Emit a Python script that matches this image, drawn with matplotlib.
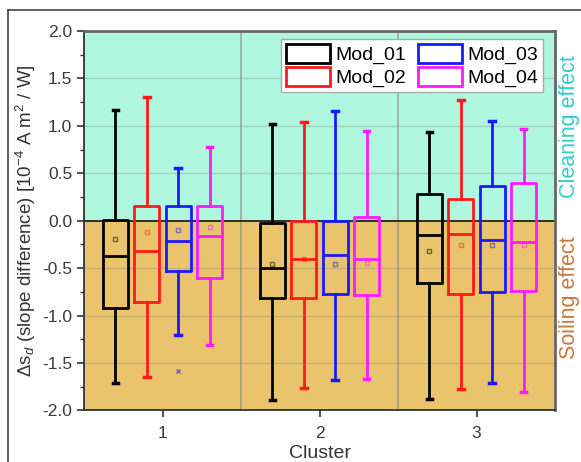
#!/usr/bin/env python3

import matplotlib
matplotlib.use("Agg")
import matplotlib.pyplot as plt
from matplotlib.patches import Patch
from matplotlib.lines import Line2D

plt.rcParams['font.family'] = ['Liberation Sans', 'DejaVu Sans']
plt.rcParams['mathtext.fontset'] = 'custom'
plt.rcParams['mathtext.rm'] = 'Liberation Sans'
plt.rcParams['mathtext.it'] = 'Liberation Sans:italic'

# data (per cluster 1, 2, 3)
clusters = [1, 2, 3]
models = ["Mod_01", "Mod_02", "Mod_03", "Mod_04"]
colors = ["black", "#ff1a1a", "#1a1aff", "#ff1aff"]

whishi = [[1.17, 1.02, 0.93], [1.30, 1.045, 1.27], [0.56, 1.155, 1.05], [0.78, 0.95, 0.97]]
q3 = [[0.01, -0.02, 0.28], [0.16, 0.0, 0.23], [0.16, 0.0, 0.37], [0.15, 0.035, 0.40]]
med = [[-0.37, -0.50, -0.15], [-0.32, -0.40, -0.14], [-0.21, -0.36, -0.20], [-0.165, -0.40, -0.22]]
q1 = [[-0.915, -0.81, -0.66], [-0.86, -0.81, -0.77], [-0.535, -0.77, -0.75], [-0.605, -0.785, -0.74]]
whislo = [[-1.71, -1.89, -1.88], [-1.65, -1.76, -1.77], [-1.20, -1.68, -1.71], [-1.31, -1.67, -1.81]]
means = [[-0.19, -0.46, -0.32], [-0.12, -0.40, -0.26], [-0.10, -0.46, -0.26], [-0.07, -0.45, -0.26]]
fliers = [[[], [], []], [[], [], []], [[-1.58], [], []], [[], [], []]]

offsets = [-0.3, -0.1, 0.1, 0.3]

fig = plt.figure(figsize=(5.81, 4.62), dpi=100)
ax = fig.add_axes([0.1446, 0.1115, 0.8107, 0.8215])

# background regions
ax.axhspan(0, 2, color="#b0f7e0", zorder=0)
ax.axhspan(-2, 0, color="#e9c46c", zorder=0)

for y in [-1.5, -1.0, -0.5, 0.5, 1.0, 1.5]:
    ax.axhline(y, color="#888888", alpha=0.35, lw=1, zorder=1)
for x in [1.5, 2.5]:
    ax.axvline(x, color="#888888", alpha=0.6, lw=1.3, zorder=1)
ax.axhline(0, color="#222222", lw=1.3, zorder=1.5)

for m in range(4):
    stats = []
    for c in range(3):
        stats.append(dict(med=med[m][c], q1=q1[m][c], q3=q3[m][c],
                          whislo=whislo[m][c], whishi=whishi[m][c],
                          mean=means[m][c], fliers=fliers[m][c]))
    pos = [cl + offsets[m] for cl in clusters]
    col = colors[m]
    ax.bxp(stats, positions=pos, widths=0.16, showmeans=True, patch_artist=False,
           manage_ticks=False,
           boxprops=dict(color=col, lw=2),
           medianprops=dict(color=col, lw=2),
           whiskerprops=dict(color=col, lw=2),
           capprops=dict(color=col, lw=2.5),
           capwidths=0.035,
           meanprops=dict(marker="s", markersize=3.5, markerfacecolor="none",
                          markeredgecolor=col, alpha=0.5),
           flierprops=dict(marker="x", markersize=3.5, markeredgecolor=col, alpha=0.6))

ax.set_xlim(0.5, 3.5)
ax.set_ylim(-2.0, 2.0)
ax.set_xticks(clusters)
ax.set_xticklabels(["1", "2", "3"])
ax.set_yticks([-2.0, -1.5, -1.0, -0.5, 0.0, 0.5, 1.0, 1.5, 2.0])
ax.set_yticklabels(["-2.0", "-1.5", "-1.0", "-0.5", "0.0", "0.5", "1.0", "1.5", "2.0"])
ax.set_yticks([-1.75, -1.25, -0.75, -0.25, 0.25, 0.75, 1.25, 1.75], minor=True)
ax.tick_params(axis="both", which="major", direction="out", length=5, width=1.2,
               color="#333333", labelcolor="#3a3a3a", labelsize=12.5)
ax.tick_params(axis="y", which="minor", direction="out", length=3, width=1, color="#333333")
ax.tick_params(axis="x", pad=6)

for side in ["left", "bottom"]:
    ax.spines[side].set_color("#333333")
    ax.spines[side].set_linewidth(1.3)
for side in ["top", "right"]:
    ax.spines[side].set_color("#666666")
    ax.spines[side].set_linewidth(2)

ax.set_xlabel("Cluster", fontsize=14, color="#333333", labelpad=3)
ax.set_ylabel(r"$\Delta$s$_d$ (slope difference) [10$^{-4}$ A m$^2$ / W]",
              fontsize=13.5, color="#333333", labelpad=3)

handles = [Patch(facecolor="white", edgecolor=c, lw=2) for c in colors]
fig.legend(handles, models, ncol=2, loc="upper right",
           bbox_to_anchor=(543 / 581, 1 - 39 / 462), borderaxespad=0, fontsize=14,
           handlelength=2.3, handleheight=1.1, handletextpad=0.25,
           columnspacing=0.6, labelspacing=0.15, borderpad=0.25,
           fancybox=False, framealpha=1, edgecolor="#aaaaaa")

fig.text(580 / 581, 1 - 127 / 462, "Cleaning effect", rotation=90, ha="right", va="center",
         color="#33cccc", fontsize=15.5)
fig.text(580 / 581, 1 - 298 / 462, "Soiling effect", rotation=90, ha="right", va="center",
         color="#c8783c", fontsize=15.5)

# outer frame lines
fig.add_artist(Line2D([8 / 581, 8 / 581], [0, 1 - 10 / 462], color="#444444", lw=1.2))
fig.add_artist(Line2D([8 / 581, 1], [1 - 10 / 462, 1 - 10 / 462], color="#444444", lw=1.2))

fig.savefig("out.png", dpi=100)
